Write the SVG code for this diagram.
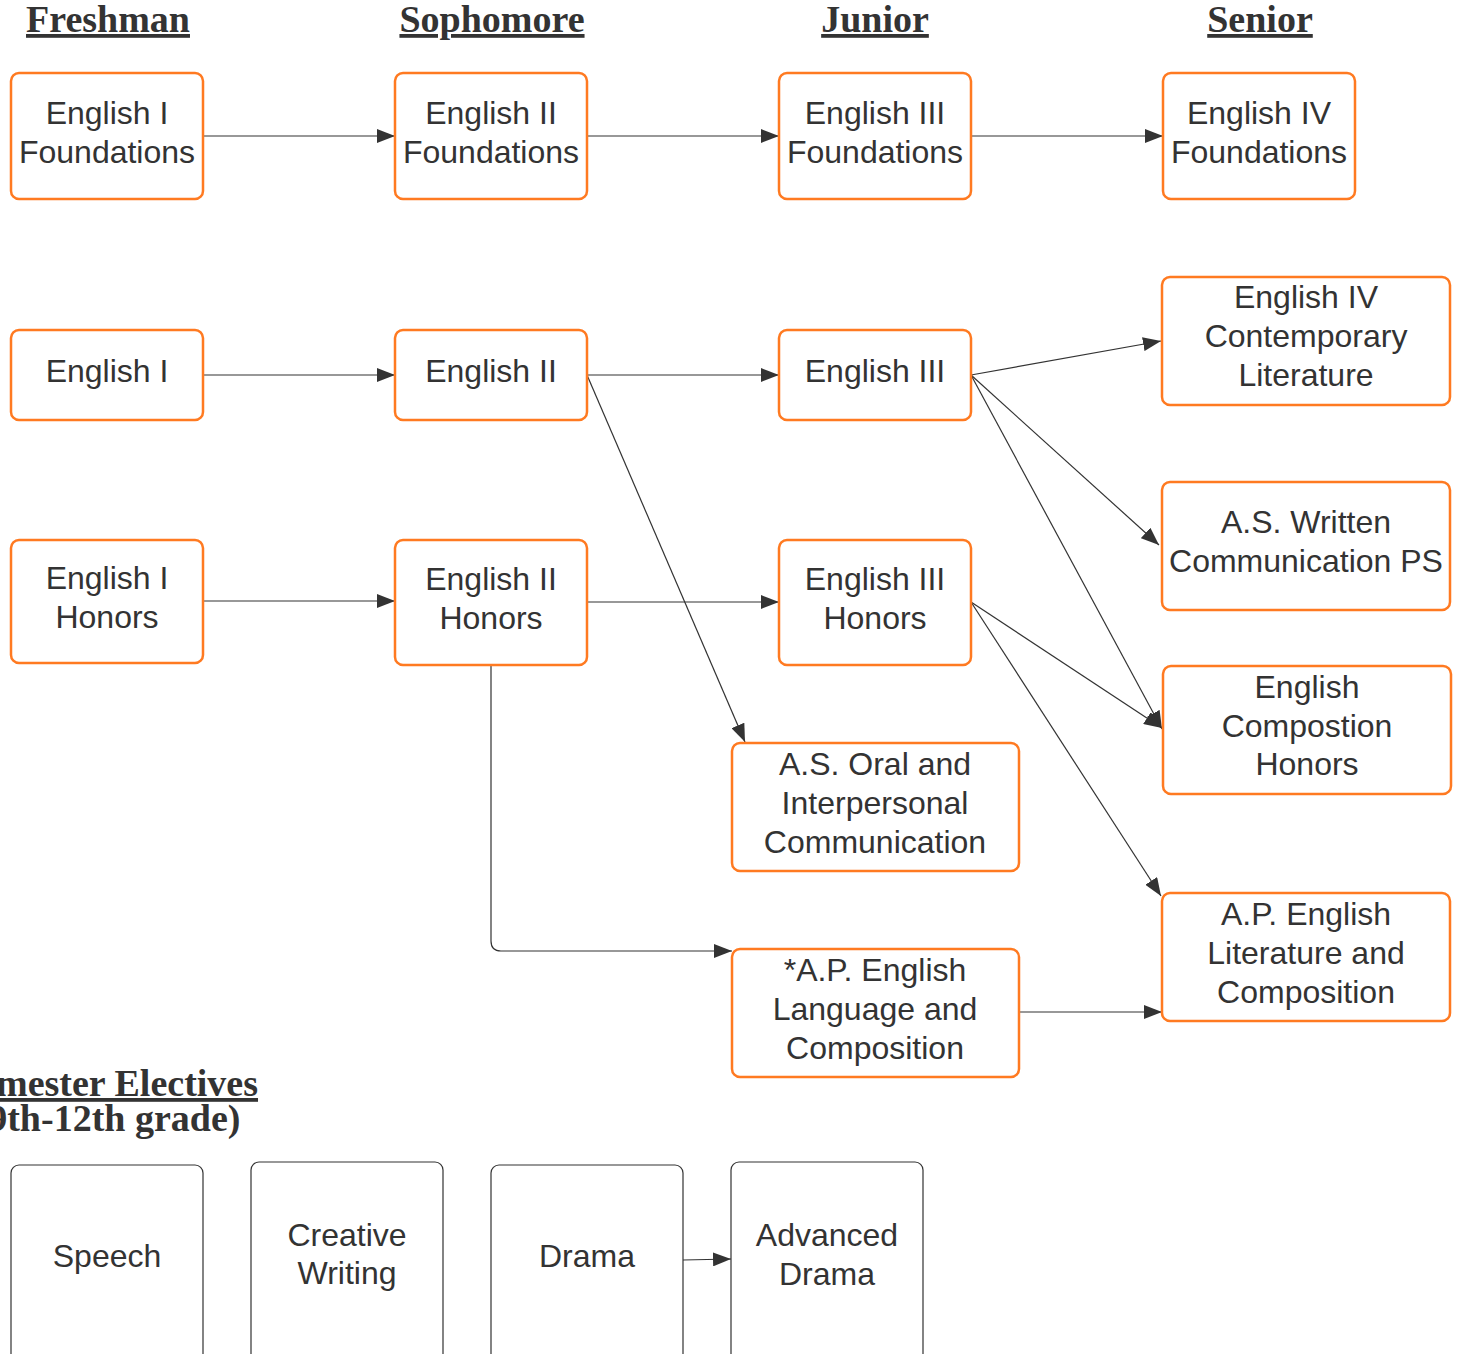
<svg xmlns="http://www.w3.org/2000/svg" width="1460" height="1354" viewBox="0 0 1460 1354">
<style>
.o{fill:#fff;stroke:#ff7a21;stroke-width:2.5}
.g{fill:#fff;stroke:#333;stroke-width:1.2}
.t{font-family:"Liberation Sans",Arial,sans-serif;font-size:32px;fill:#333;text-anchor:middle}
.h{font-family:"Liberation Serif","Times New Roman",serif;font-weight:bold;font-size:38px;fill:#333;text-anchor:middle;text-decoration:underline}
.h2{font-family:"Liberation Serif","Times New Roman",serif;font-weight:bold;font-size:38px;fill:#333;text-anchor:middle}
.c{fill:none;stroke:#333;stroke-width:1.2}
</style>
<defs>
<marker id="a" markerUnits="userSpaceOnUse" markerWidth="20" markerHeight="14" refX="18" refY="7" orient="auto">
<path d="M0,0 L18,7 L0,14 Z" fill="#333"/>
</marker>
</defs>
<rect width="1460" height="1354" fill="#fff"/>
<g id="headers">
<text class="h" x="108" y="32">Freshman</text>
<text class="h" x="492" y="32">Sophomore</text>
<text class="h" x="875" y="32">Junior</text>
<text class="h" x="1260" y="32">Senior</text>
<text class="h" x="108" y="1096">Semester Electives</text>
<text class="h2" x="108" y="1131">(9th-12th grade)</text>
</g>
<g id="connectors">
<path class="c" marker-end="url(#a)" d="M203,136 L395,136"/>
<path class="c" marker-end="url(#a)" d="M587,136 L779,136"/>
<path class="c" marker-end="url(#a)" d="M971,136 L1163,136"/>
<path class="c" marker-end="url(#a)" d="M203,375 L395,375"/>
<path class="c" marker-end="url(#a)" d="M587,375 L779,375"/>
<path class="c" marker-end="url(#a)" d="M971,375 L1161,341"/>
<path class="c" marker-end="url(#a)" d="M971,375 L1159,545"/>
<path class="c" marker-end="url(#a)" d="M971,375 L1162,729"/>
<path class="c" marker-end="url(#a)" d="M587,375 L745,742"/>
<path class="c" marker-end="url(#a)" d="M203,601 L395,601"/>
<path class="c" marker-end="url(#a)" d="M587,602 L779,602"/>
<path class="c" marker-end="url(#a)" d="M971,602 L1162,728"/>
<path class="c" marker-end="url(#a)" d="M971,602 L1161,896"/>
<path class="c" marker-end="url(#a)" d="M491,665 L491,941 Q491,951 501,951 L732,951"/>
<path class="c" marker-end="url(#a)" d="M1019,1012 L1162,1012"/>
<path class="c" marker-end="url(#a)" d="M683,1260 L731,1259"/>
</g>
<g id="n1"><rect class="o" x="11" y="73" width="192" height="126" rx="8"/><text class="t" x="107" y="124">English I</text><text class="t" x="107" y="163">Foundations</text></g>
<g id="n2"><rect class="o" x="395" y="73" width="192" height="126" rx="8"/><text class="t" x="491" y="124">English II</text><text class="t" x="491" y="163">Foundations</text></g>
<g id="n3"><rect class="o" x="779" y="73" width="192" height="126" rx="8"/><text class="t" x="875" y="124">English III</text><text class="t" x="875" y="163">Foundations</text></g>
<g id="n4"><rect class="o" x="1163" y="73" width="192" height="126" rx="8"/><text class="t" x="1259" y="124">English IV</text><text class="t" x="1259" y="163">Foundations</text></g>
<g id="n5"><rect class="o" x="11" y="330" width="192" height="90" rx="8"/><text class="t" x="107" y="382">English I</text></g>
<g id="n6"><rect class="o" x="395" y="330" width="192" height="90" rx="8"/><text class="t" x="491" y="382">English II</text></g>
<g id="n7"><rect class="o" x="779" y="330" width="192" height="90" rx="8"/><text class="t" x="875" y="382">English III</text></g>
<g id="n8"><rect class="o" x="1162" y="277" width="288" height="128" rx="8"/><text class="t" x="1306" y="308">English IV</text><text class="t" x="1306" y="347">Contemporary</text><text class="t" x="1306" y="386">Literature</text></g>
<g id="n9"><rect class="o" x="1162" y="482" width="288" height="128" rx="8"/><text class="t" x="1306" y="533">A.S. Written</text><text class="t" x="1306" y="572">Communication PS</text></g>
<g id="n10"><rect class="o" x="11" y="540" width="192" height="123" rx="8"/><text class="t" x="107" y="589">English I</text><text class="t" x="107" y="628">Honors</text></g>
<g id="n11"><rect class="o" x="395" y="540" width="192" height="125" rx="8"/><text class="t" x="491" y="590">English II</text><text class="t" x="491" y="629">Honors</text></g>
<g id="n12"><rect class="o" x="779" y="540" width="192" height="125" rx="8"/><text class="t" x="875" y="590">English III</text><text class="t" x="875" y="629">Honors</text></g>
<g id="n13"><rect class="o" x="1163" y="666" width="288" height="128" rx="8"/><text class="t" x="1307" y="698">English</text><text class="t" x="1307" y="737">Compostion</text><text class="t" x="1307" y="775">Honors</text></g>
<g id="n14"><rect class="o" x="732" y="743" width="287" height="128" rx="8"/><text class="t" x="875" y="775">A.S. Oral and</text><text class="t" x="875" y="814">Interpersonal</text><text class="t" x="875" y="853">Communication</text></g>
<g id="n15"><rect class="o" x="1162" y="893" width="288" height="128" rx="8"/><text class="t" x="1306" y="925">A.P. English</text><text class="t" x="1306" y="964">Literature and</text><text class="t" x="1306" y="1003">Composition</text></g>
<g id="n16"><rect class="o" x="732" y="949" width="287" height="128" rx="8"/><text class="t" x="875" y="981">*A.P. English</text><text class="t" x="875" y="1020">Language and</text><text class="t" x="875" y="1059">Composition</text></g>
<g id="n17"><rect class="g" x="11" y="1165" width="192" height="200" rx="8"/><text class="t" x="107" y="1267">Speech</text></g>
<g id="n18"><rect class="g" x="251" y="1162" width="192" height="203" rx="8"/><text class="t" x="347" y="1246">Creative</text><text class="t" x="347" y="1284">Writing</text></g>
<g id="n19"><rect class="g" x="491" y="1165" width="192" height="200" rx="8"/><text class="t" x="587" y="1267">Drama</text></g>
<g id="n20"><rect class="g" x="731" y="1162" width="192" height="203" rx="8"/><text class="t" x="827" y="1246">Advanced</text><text class="t" x="827" y="1285">Drama</text></g>
</svg>
